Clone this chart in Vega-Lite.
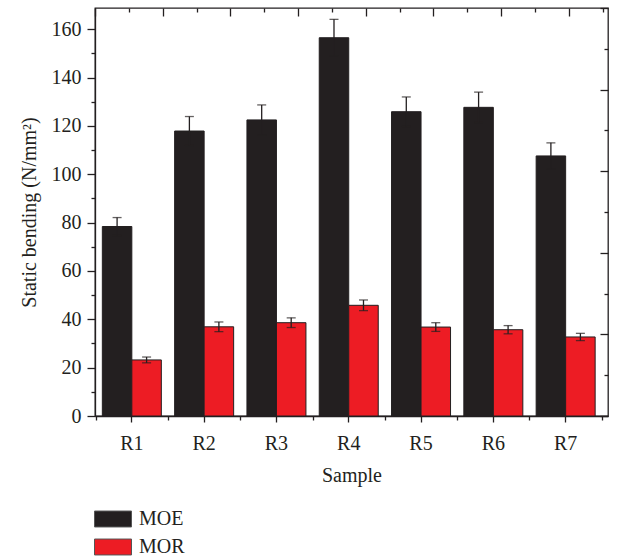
{
  "$schema": "https://vega.github.io/schema/vega-lite/v6.json",
  "width": 513,
  "height": 408,
  "autosize": {"type": "none"},
  "padding": {"left": 95, "top": 8, "right": 9, "bottom": 142},
  "data": {
    "values": [
      {"sample": "R1", "series": "MOE", "value": 78.4, "sd": 3.7},
      {"sample": "R1", "series": "MOR", "value": 23.2, "sd": 1.2},
      {"sample": "R2", "series": "MOE", "value": 117.9, "sd": 6.0},
      {"sample": "R2", "series": "MOR", "value": 36.9, "sd": 2.0},
      {"sample": "R3", "series": "MOE", "value": 122.5, "sd": 6.2},
      {"sample": "R3", "series": "MOR", "value": 38.6, "sd": 2.0},
      {"sample": "R4", "series": "MOE", "value": 156.5, "sd": 7.6},
      {"sample": "R4", "series": "MOR", "value": 45.8, "sd": 2.2},
      {"sample": "R5", "series": "MOE", "value": 125.9, "sd": 6.1},
      {"sample": "R5", "series": "MOR", "value": 36.8, "sd": 1.8},
      {"sample": "R6", "series": "MOE", "value": 127.7, "sd": 6.3},
      {"sample": "R6", "series": "MOR", "value": 35.7, "sd": 1.7},
      {"sample": "R7", "series": "MOE", "value": 107.6, "sd": 5.4},
      {"sample": "R7", "series": "MOR", "value": 32.7, "sd": 1.5}
    ]
  },
  "config": {
    "font": "Liberation Serif",
    "view": {"stroke": "#231f20", "strokeWidth": 1.3},
    "axis": {
      "labelFont": "Liberation Serif",
      "titleFont": "Liberation Serif",
      "labelFontSize": 20,
      "titleFontSize": 20,
      "titleFontWeight": "normal",
      "labelColor": "#231f20",
      "titleColor": "#231f20",
      "tickColor": "#231f20",
      "domainColor": "#231f20",
      "tickWidth": 1.3,
      "domainWidth": 1.3,
      "grid": false
    },
    "legend": {"padding": 0}
  },
  "layer": [
    {
      "encoding": {
        "x": {
          "field": "sample",
          "type": "nominal",
          "scale": {"paddingInner": 0, "paddingOuter": 0.0477, "align": 0.1},
          "axis": {"title": "Sample", "labelAngle": 0, "tickSize": 6, "labelPadding": 11, "titlePadding": 12}
        },
        "xOffset": {
          "field": "series",
          "scale": {"paddingInner": 0, "paddingOuter": 0.2254}
        },
        "y": {
          "field": "value",
          "type": "quantitative",
          "title": "Static bending (N/mm²)",
          "scale": {"domain": [0, 168.8], "nice": false},
          "axis": {"values": [0, 20, 40, 60, 80, 100, 120, 140, 160], "tickSize": 8, "labelPadding": 6, "titlePadding": 12}
        }
      },
      "layer": [
        {
          "mark": {"type": "bar", "stroke": "#231f20", "strokeWidth": 1},
          "encoding": {
            "color": {
              "field": "series",
              "type": "nominal",
              "scale": {"domain": ["MOE", "MOR"], "range": ["#231f20", "#ed1c24"]},
              "legend": {
                "title": null,
                "orient": "none",
                "legendX": -1,
                "legendY": 499,
                "direction": "vertical",
                "symbolType": "M-1,-0.43H1V0.43H-1Z",
                "symbolSize": 1369,
                "symbolStrokeColor": "#555555",
                "symbolStrokeWidth": 1,
                "symbolOpacity": 1,
                "labelFont": "Liberation Serif",
                "labelFontSize": 20,
                "labelColor": "#231f20",
                "labelOffset": 7,
                "clipHeight": 24,
                "rowPadding": 4
              }
            }
          }
        },
        {
          "mark": {
            "type": "errorbar",
            "color": "#231f20",
            "ticks": {"size": 9, "thickness": 1.3},
            "rule": {"strokeWidth": 1.3}
          },
          "encoding": {"yError": {"field": "sd"}}
        }
      ]
    },
    {
      "mark": {"type": "rule", "opacity": 0},
      "encoding": {
        "x": {
          "datum": 1,
          "type": "quantitative",
          "scale": {"domain": [0.4905, 7.586], "nice": false, "zero": false},
          "axis": {"orient": "bottom", "values": [0.5, 1.5, 2.5, 3.5, 4.5, 5.5, 6.5, 7.5], "labels": false, "domain": false, "title": null, "tickSize": 4}
        }
      }
    },
    {
      "mark": {"type": "rule", "opacity": 0},
      "encoding": {
        "x": {
          "datum": 1,
          "type": "quantitative",
          "scale": {"domain": [0, 7.58], "nice": false, "zero": false},
          "axis": {"orient": "top", "values": [0, 1, 2, 3, 4, 5, 6, 7], "labels": false, "domain": false, "title": null, "tickSize": -8}
        }
      }
    },
    {
      "mark": {"type": "rule", "opacity": 0},
      "encoding": {
        "x": {
          "datum": 1,
          "type": "quantitative",
          "scale": {"domain": [0, 7.58], "nice": false, "zero": false},
          "axis": {"orient": "top", "values": [0.5, 1.5, 2.5, 3.5, 4.5, 5.5, 6.5, 7.5], "labels": false, "domain": false, "title": null, "tickSize": -4}
        }
      }
    },
    {
      "mark": {"type": "rule", "opacity": 0},
      "encoding": {
        "y": {
          "datum": 1,
          "type": "quantitative",
          "scale": {"domain": [0, 168.8], "nice": false},
          "axis": {"orient": "left", "values": [10, 30, 50, 70, 90, 110, 130, 150], "labels": false, "domain": false, "title": null, "tickSize": 4}
        }
      }
    },
    {
      "mark": {"type": "rule", "opacity": 0},
      "encoding": {
        "y": {
          "datum": 1,
          "type": "quantitative",
          "scale": {"domain": [0, 10], "nice": false},
          "axis": {"orient": "right", "values": [0, 2, 4, 6, 8, 10], "labels": false, "domain": false, "title": null, "tickSize": -8}
        }
      }
    },
    {
      "mark": {"type": "rule", "opacity": 0},
      "encoding": {
        "y": {
          "datum": 1,
          "type": "quantitative",
          "scale": {"domain": [0, 10], "nice": false},
          "axis": {"orient": "right", "values": [1, 3, 5, 7, 9], "labels": false, "domain": false, "title": null, "tickSize": -4}
        }
      }
    }
  ],
  "resolve": {
    "scale": {"x": "independent", "y": "independent"},
    "axis": {"x": "independent", "y": "independent"}
  }
}
